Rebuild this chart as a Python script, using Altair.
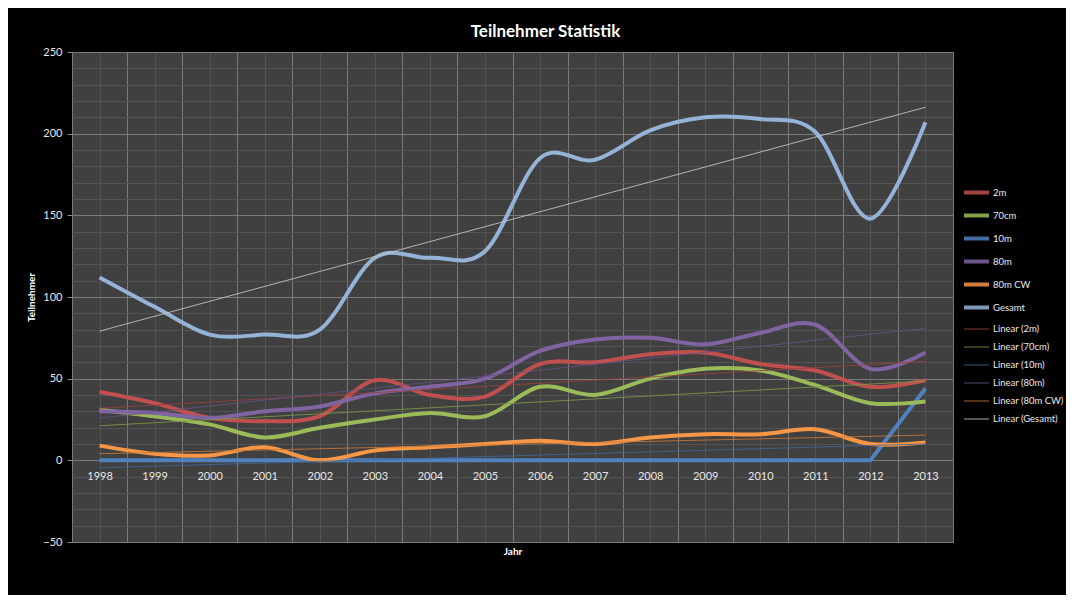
import altair as alt
import pandas as pd

years = [1998, 1999, 2000, 2001, 2002, 2003, 2004, 2005, 2006, 2007, 2008, 2009, 2010, 2011, 2012, 2013]
series_names = ["2m", "70cm", "10m", "80m", "80m CW", "Gesamt"]
v_2m = [42, 35, 26, 24, 27, 49, 40, 39, 59, 60, 65, 66, 59, 55, 45, 49]
v_70cm = [31, 27, 22, 14, 20, 25, 29, 27, 45, 40, 50, 56, 55, 46, 35, 36]
v_10m = [0, 0, 0, 0, 0, 0, 0, 0, 0, 0, 0, 0, 0, 0, 0, 44]
v_80m = [30, 29, 26, 30, 33, 41, 45, 50, 67, 74, 75, 71, 78, 83, 56, 66]
v_80mcw = [9, 4, 3, 8, 0, 6, 8, 10, 12, 10, 14, 16, 16, 19, 10, 11]
v_gesamt = [112, 94, 77, 77, 80, 124, 124, 128, 185, 184, 202, 210, 209, 201, 148, 207]

trend_names = ["Linear (2m)", "Linear (70cm)", "Linear (10m)", "Linear (80m)",
               "Linear (80m CW)", "Linear (Gesamt)"]
series_colors = ["#c0504d", "#9bbb59", "#4f81bd", "#8064a2", "#f79646", "#95b3d7"]
trend_colors = ["#9a403e", "#7c9647", "#3f6797", "#665082", "#c67838", "#c8c8c8"]

x_ticks = years
x_bounds = [1997.5 + i for i in range(17)]
y_major = [-50, 0, 50, 100, 150, 200, 250]
y_minor = list(range(-50, 251, 10))

rows = []
for name, vals in zip(series_names, [v_2m, v_70cm, v_10m, v_80m, v_80mcw, v_gesamt]):
    for yr, v in zip(years, vals):
        rows.append({"year": yr, "series": name, "value": v})
df = pd.DataFrame(rows)

all_names = series_names + trend_names
all_colors = series_colors + trend_colors
all_widths = [4, 4, 4, 4, 4, 4, 1, 1, 1, 1, 1, 1]

FONT = "Lato"
MINOR = "#535353"
MAJOR = "#7a7a7a"

xscale = alt.Scale(domain=[1997.5, 2013.5], nice=False, zero=False)
yscale = alt.Scale(domain=[-50, 250], nice=False, zero=False)

legend = alt.Legend(
    title=None, orient="none", legendX=890, legendY=126,
    symbolType="stroke", symbolSize=625, rowPadding=-4.5, padding=0,
    labelColor="#e8e8e8", labelFont=FONT, labelFontSize=9.5, labelOffset=2,
    labelLimit=200,
)
color = alt.Color("series:O", sort=all_names,
                  scale=alt.Scale(type="ordinal", domain=all_names, range=all_colors),
                  legend=legend)
swidth = alt.StrokeWidth("series:O", sort=all_names,
                         scale=alt.Scale(type="ordinal", domain=all_names, range=all_widths),
                         legend=legend)

base = alt.Chart(df)

# minor grid layer
minor = base.mark_line(opacity=0).encode(
    x=alt.X("year:Q", scale=xscale, axis=alt.Axis(
        values=x_ticks, grid=True, gridColor=MINOR, gridWidth=1, labels=False, ticks=False,
        domain=False, title=None, orient="bottom")),
    y=alt.Y("value:Q", scale=yscale, axis=alt.Axis(
        values=y_minor, grid=True, gridColor=MINOR, gridWidth=1, labels=False, ticks=False,
        domain=False, title=None, orient="left")),
)

# major grid layer with y labels and titles
major = base.mark_line(opacity=0).encode(
    x=alt.X("year:Q", scale=xscale, axis=alt.Axis(
        values=x_bounds, grid=True, gridColor=MAJOR, gridWidth=1, labels=False, ticks=False,
        domain=False, title="Jahr", titleColor="white", titleFont=FONT, titleFontSize=10,
        titleFontWeight="bold", titlePadding=4, orient="bottom")),
    y=alt.Y("value:Q", scale=yscale, axis=alt.Axis(
        values=y_major, grid=True, gridColor=MAJOR, gridWidth=1, labels=True,
        labelColor="#e8e8e8", labelFont=FONT, labelFontSize=11, labelPadding=5,
        ticks=True, tickSize=5, tickColor="#8a8a8a",
        domain=False, title="Teilnehmer", titleColor="white", titleFont=FONT,
        titleFontSize=10, titleFontWeight="bold", titlePadding=6, orient="left")),
)

# x labels at the zero line
xlabels = base.mark_line(opacity=0).encode(
    x=alt.X("year:Q", scale=xscale, axis=alt.Axis(
        values=x_ticks, format="d", grid=False, labels=True, labelColor="#e8e8e8",
        labelFont=FONT, labelFontSize=11, labelPadding=10, ticks=False, domain=False,
        title=None, offset=-82, orient="bottom")),
    y=alt.Y("value:Q", scale=yscale, axis=None),
)

smooth = base.transform_filter("datum.series != '10m'").mark_line(interpolate="cardinal").encode(
    x=alt.X("year:Q", scale=xscale, axis=None),
    y=alt.Y("value:Q", scale=yscale, axis=None),
    color=color, strokeWidth=swidth,
    order=alt.Order("year:Q"),
)
straight = base.transform_filter("datum.series == '10m'").mark_line().encode(
    x=alt.X("year:Q", scale=xscale, axis=None),
    y=alt.Y("value:Q", scale=yscale, axis=None),
    color=color, strokeWidth=swidth,
)
trends = base.transform_regression(
    "year", "value", groupby=["series"], extent=[1998, 2013]
).transform_calculate(
    series='"Linear (" + datum.series + ")"'
).mark_line(opacity=0.85).encode(
    x=alt.X("year:Q", scale=xscale, axis=None),
    y=alt.Y("value:Q", scale=yscale, axis=None),
    color=color, strokeWidth=swidth,
)

chart = alt.layer(minor, major, xlabels, straight, smooth, trends).resolve_axis(
    x="independent", y="independent"
).properties(
    width=881, height=490,
    padding={"left": 64, "top": 44, "right": 113, "bottom": 53},
    autosize=alt.AutoSizeParams(type="none"),
    background="black",
    title=alt.TitleParams("Teilnehmer Statistik", font=FONT, fontSize=17, fontWeight="bold",
                          color="white", anchor="middle", dx=33, offset=5),
).configure_view(fill="#404040", stroke="#6a6a6a", strokeWidth=1)

chart.save("out.html", embed_options={"renderer": "svg", "actions": False})
